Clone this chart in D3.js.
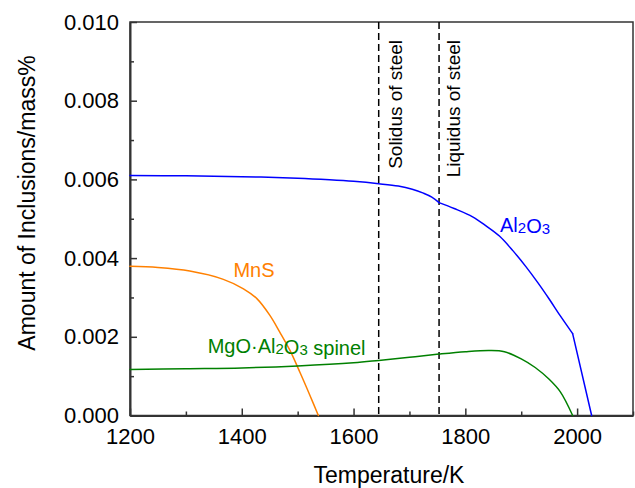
<!DOCTYPE html>
<html>
<head>
<meta charset="utf-8">
<script src="https://cdn.jsdelivr.net/npm/d3@7"></script>
<style>
  html, body { margin: 0; padding: 0; background: #fff; }
  svg { display: block; font-family: "Liberation Sans", Arial, sans-serif; }
</style>
</head>
<body>
<svg id="chart" width="635" height="488"></svg>
<script>
// ---- data ----
// Al2O3: three smooth pieces (kinks at the liquidus and near 1992 K)
const al2o3TempA = [1200, 1300, 1400, 1500, 1557, 1600, 1645, 1680, 1705, 1725, 1740, 1753];
const al2o3ValA  = [0.00610, 0.00609, 0.00607, 0.00603, 0.00599, 0.00595, 0.00589, 0.00583, 0.00575, 0.00565, 0.00555, 0.00541];
const al2o3TempB = [1753, 1780, 1813, 1837, 1861, 1885, 1908, 1930, 1950, 1970, 1992];
const al2o3ValB  = [0.00541, 0.00526, 0.00505, 0.00482, 0.00456, 0.00419, 0.00379, 0.00337, 0.00296, 0.00253, 0.00208];
const al2o3TempC = [1992, 2026];
const al2o3ValC  = [0.00208, 0.0];

const mnsTemp = [1200, 1250, 1307, 1367, 1403, 1427, 1450, 1468, 1486, 1504, 1522, 1537];
const mnsVal  = [0.00379, 0.00376, 0.00367, 0.00346, 0.00322, 0.00297, 0.00255, 0.00212, 0.00166, 0.00110, 0.00051, 0.0];

const spinelTemp = [1200, 1300, 1400, 1500, 1600, 1645, 1700, 1753, 1800, 1843, 1870, 1900, 1925, 1950, 1970, 1992];
const spinelVal  = [0.00117, 0.00119, 0.00121, 0.00126, 0.00134, 0.00140, 0.00148, 0.00156, 0.00162, 0.00165, 0.00162, 0.00144, 0.00122, 0.00092, 0.00060, 0.0];

const solidusT = 1645;
const liquidusT = 1753;

const xTicks = [1200, 1400, 1600, 1800, 2000];
const xMinorTicks = [1300, 1500, 1700, 1900, 2100];
const yTicks = [0.000, 0.002, 0.004, 0.006, 0.008, 0.010];
const yMinorTicks = [0.001, 0.003, 0.005, 0.007, 0.009];

const xTitle = "Temperature/K";
const yTitle = "Amount of Inclusions/mass%";

// ---- layout ----
const svg = d3.select("#chart");
const L = 130, R = 633, T = 22, B = 415.5;
const x = d3.scaleLinear().domain([1200, 2100]).range([L, R]);
const y = d3.scaleLinear().domain([0, 0.010]).range([B, T]);

const axisColor = "#333";
const tickFont = 22;

// frame
svg.append("rect").attr("x", L).attr("y", T).attr("width", R - L).attr("height", B - T)
  .attr("fill", "none").attr("stroke", axisColor).attr("stroke-width", 1.5);

// x axis ticks (inward)
const gx = svg.append("g").attr("transform", `translate(0,${B})`)
  .call(d3.axisBottom(x).tickValues(xTicks).tickSizeInner(-7).tickSizeOuter(0).tickPadding(13).tickFormat(d3.format("d")));
gx.select(".domain").attr("stroke", axisColor).attr("stroke-width", 2);
gx.selectAll(".tick line").attr("stroke", axisColor).attr("stroke-width", 1.5);
gx.selectAll(".tick text").attr("font-size", tickFont).attr("fill", "#000").attr("font-family", "Liberation Sans, Arial, sans-serif");
const gxm = svg.append("g").attr("transform", `translate(0,${B})`)
  .call(d3.axisBottom(x).tickValues(xMinorTicks).tickSizeInner(-4).tickSizeOuter(0).tickFormat(""));
gxm.select(".domain").remove();
gxm.selectAll(".tick line").attr("stroke", axisColor).attr("stroke-width", 1.5);

// y axis ticks (inward)
const gy = svg.append("g").attr("transform", `translate(${L},0)`)
  .call(d3.axisLeft(y).tickValues(yTicks).tickSizeInner(-7).tickSizeOuter(0).tickPadding(11).tickFormat(d3.format(".3f")));
gy.select(".domain").attr("stroke", axisColor).attr("stroke-width", 2);
gy.selectAll(".tick line").attr("stroke", axisColor).attr("stroke-width", 1.5);
gy.selectAll(".tick text").attr("font-size", tickFont).attr("fill", "#000").attr("font-family", "Liberation Sans, Arial, sans-serif");
const gym = svg.append("g").attr("transform", `translate(${L},0)`)
  .call(d3.axisLeft(y).tickValues(yMinorTicks).tickSizeInner(-4).tickSizeOuter(0).tickFormat(""));
gym.select(".domain").remove();
gym.selectAll(".tick line").attr("stroke", axisColor).attr("stroke-width", 1.5);

// axis titles
svg.append("text").attr("x", 389).attr("y", 483).attr("text-anchor", "middle")
  .attr("font-size", 23).attr("fill", "#000").text(xTitle);
svg.append("text").attr("transform", `translate(35,203) rotate(-90)`).attr("text-anchor", "middle")
  .attr("font-size", 23).attr("fill", "#000").text(yTitle);

// dashed lines
[solidusT, liquidusT].forEach(t => {
  svg.append("line").attr("x1", x(t)).attr("x2", x(t)).attr("y1", T).attr("y2", B)
    .attr("stroke", "#000").attr("stroke-width", 1.5).attr("stroke-dasharray", "7,4");
});
svg.append("text").attr("transform", `translate(${x(solidusT) + 23},40) rotate(-90)`)
  .attr("text-anchor", "end").attr("font-size", 19).attr("fill", "#000").text("Solidus of steel");
svg.append("text").attr("transform", `translate(${x(liquidusT) + 21},40) rotate(-90)`)
  .attr("text-anchor", "end").attr("font-size", 19).attr("fill", "#000").text("Liquidus of steel");

// curves
const line = d3.line().x(d => x(d[0])).y(d => y(d[1])).curve(d3.curveCatmullRom.alpha(0.5));
const series = [
  { t: al2o3TempA, v: al2o3ValA, color: "#0000ff" },
  { t: al2o3TempB, v: al2o3ValB, color: "#0000ff" },
  { t: al2o3TempC, v: al2o3ValC, color: "#0000ff" },
  { t: mnsTemp, v: mnsVal, color: "#ff8000" },
  { t: spinelTemp, v: spinelVal, color: "#008000" }
];
series.forEach(s => {
  svg.append("path").datum(d3.zip(s.t, s.v)).attr("d", line)
    .attr("fill", "none").attr("stroke", s.color).attr("stroke-width", 1.5)
    .attr("stroke-linejoin", "round").attr("stroke-linecap", "round");
});

// labels with subscripts
function chemLabel(px, py, parts, color) {
  const t = svg.append("text").attr("x", px).attr("y", py).attr("font-size", 20).attr("fill", color);
  parts.forEach(p => {
    if (p.sub) {
      t.append("tspan").attr("font-size", 15).attr("dy", 1).text(p.s);
      t.append("tspan").attr("dy", -1).text("");
    } else {
      t.append("tspan").text(p.s);
    }
  });
}
chemLabel(x(1385), y(0.00353), [{ s: "MnS" }], "#ff8000");
chemLabel(x(1339), y(0.00158), [{ s: "MgO·Al" }, { s: "2", sub: true }, { s: "O" }, { s: "3", sub: true }, { s: " spinel" }], "#008000");
chemLabel(x(1862), y(0.00467), [{ s: "Al" }, { s: "2", sub: true }, { s: "O" }, { s: "3", sub: true }], "#0000ff");
</script>
</body>
</html>
